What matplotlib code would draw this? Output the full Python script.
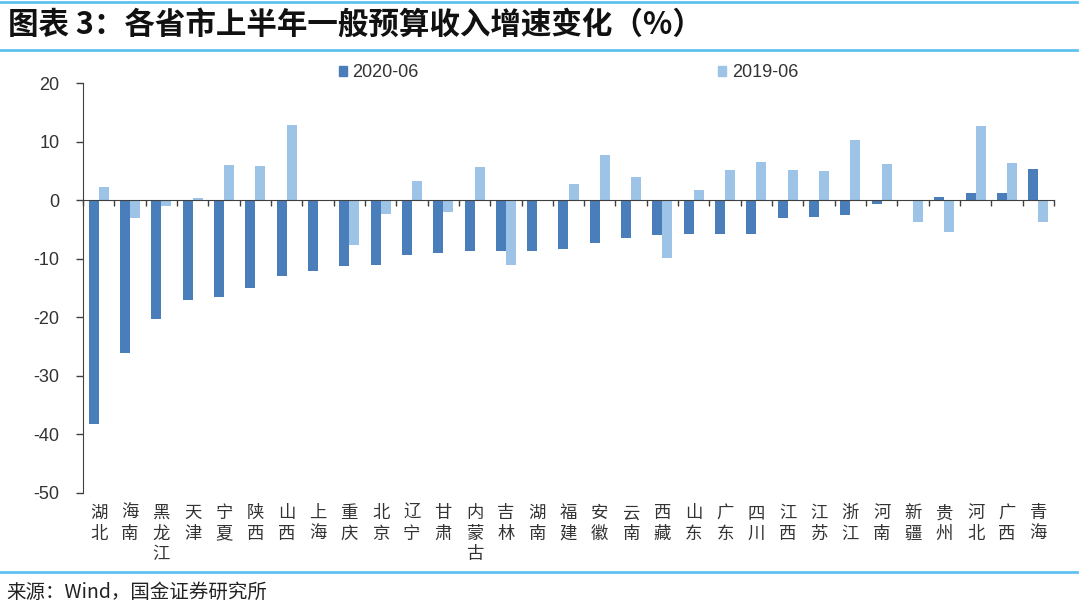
import matplotlib

matplotlib.use("Agg")

import matplotlib.pyplot as plt
import numpy as np
from matplotlib.patches import Patch

plt.rcParams["font.family"] = ["Noto Sans CJK SC", "DejaVu Sans"]
plt.rcParams["axes.unicode_minus"] = False

INK = "#333333"
AXIS = "#404040"
DARK = "#4a7ebb"
LIGHT = "#9dc3e6"
RULE = "#5fc1f0"
LATIN = ["Liberation Sans", "DejaVu Sans"]

provinces = [
    "湖北", "海南", "黑龙江", "天津", "宁夏", "陕西", "山西", "上海", "重庆", "北京",
    "辽宁", "甘肃", "内蒙古", "吉林", "湖南", "福建", "安徽", "云南", "西藏", "山东",
    "广东", "四川", "江西", "江苏", "浙江", "河南", "新疆", "贵州", "河北", "广西", "青海",
]
growth_2020 = [
    -38.3, -26.1, -20.3, -17.0, -16.6, -15.0, -12.9, -12.1, -11.2, -11.0,
    -9.3, -9.0, -8.7, -8.7, -8.7, -8.4, -7.4, -6.4, -5.9, -5.7,
    -5.8, -5.7, -3.1, -2.8, -2.6, -0.6, -0.1, 0.6, 1.2, 1.2, 5.3,
]
growth_2019 = [
    2.3, -3.1, -1.0, 0.4, 6.0, 5.9, 12.8, 0.0, -7.7, -2.4,
    3.3, -2.0, 5.6, -11.0, 0.0, 2.8, 7.7, 4.0, -9.9, 1.8,
    5.1, 6.5, 5.1, 4.9, 10.2, 6.2, -3.7, -5.4, 12.6, 6.3, -3.8,
]
y_ticks = [20, 10, 0, -10, -20, -30, -40, -50]

fig = plt.figure(figsize=(10.8, 6.09), dpi=100, facecolor="white")
ax = fig.add_axes((83 / 1080, 1 - 493 / 609, (1054 - 83) / 1080, 410 / 609))

x = np.arange(len(provinces))
width = 0.32
ax.bar(x - width / 2, growth_2020, width, color=DARK, zorder=2)
ax.bar(x + width / 2, growth_2019, width, color=LIGHT, zorder=2)

ax.set_xlim(-0.5, len(provinces) - 0.5)
ax.set_ylim(-50, 20)
ax.set_yticks(y_ticks)
ax.set_yticklabels([str(v) for v in y_ticks], family=LATIN)
ax.tick_params(axis="y", direction="out", length=5, width=1, color=AXIS,
               labelsize=13, labelcolor=INK, pad=12)

for side in ["top", "right"]:
    ax.spines[side].set_visible(False)
ax.spines["left"].set_color(AXIS)
ax.spines["bottom"].set_color(AXIS)
ax.spines["bottom"].set_position(("data", 0))
ax.spines["bottom"].set_zorder(3)
ax.set_xticks(np.arange(len(provinces) + 1) - 0.5)
ax.set_xticklabels([])
ax.tick_params(axis="x", direction="out", length=4, width=1, color=AXIS)

# province names sit under the plot, while the category ticks stay on the zero line
labels_axis = ax.secondary_xaxis(0)
labels_axis.set_xticks(x)
labels_axis.set_xticklabels(["\n".join(name) for name in provinces],
                            fontsize=12.5, color=INK, linespacing=1.18)
labels_axis.tick_params(length=0, pad=8)
labels_axis.spines["bottom"].set_visible(False)

ax.legend(
    handles=[Patch(color=DARK, label="2020-06"), Patch(color=LIGHT, label="2019-06")],
    loc="center",
    bbox_to_anchor=(0.5, 1.025),
    ncol=2,
    frameon=False,
    prop={"family": LATIN, "size": 13},
    handlelength=0.45,
    handleheight=0.45,
    handletextpad=0.3,
    columnspacing=16.6,
    labelcolor=INK,
)

fig.text(8 / 1080, 1 - 25 / 609, "图表 3：各省市上半年一般预算收入增速变化（%）",
         fontsize=22, fontweight="bold", color="#111111", va="center", ha="left")
fig.text(6 / 1080, 1 - 592 / 609, "来源：Wind，国金证券研究所",
         fontsize=14, color="#222222", va="center", ha="left")

for y_px in [1.5, 49.5, 571.5]:
    fig.add_artist(plt.Line2D([0, 1077 / 1080], [1 - y_px / 609] * 2,
                              color=RULE, linewidth=2, transform=fig.transFigure))

fig.savefig("out.png", dpi=100, facecolor="white")
